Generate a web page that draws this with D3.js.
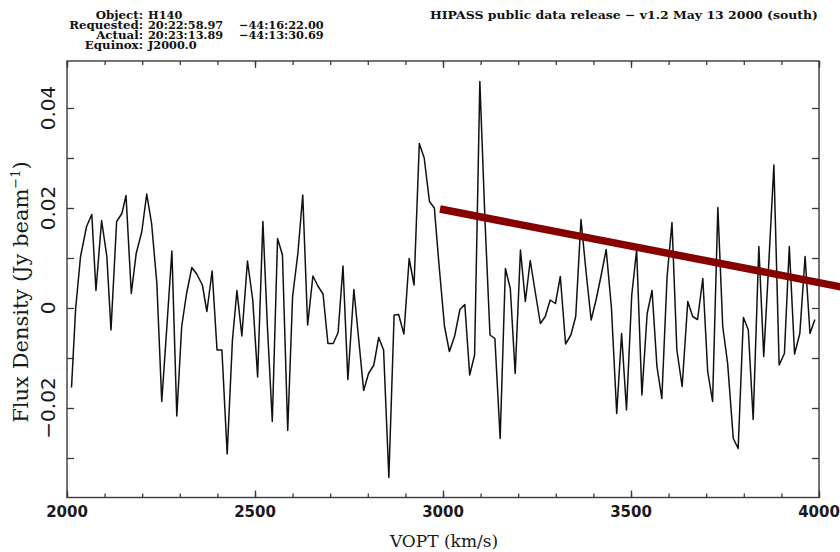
<!DOCTYPE html>
<html>
<head>
<meta charset="utf-8">
<script src="https://cdn.jsdelivr.net/npm/d3@7"></script>
<style>
  html, body { margin: 0; padding: 0; background: #fff; }
  svg { display: block; }
</style>
</head>
<body>
<script>
// HIPASS spectrum of H140: optical velocity (km/s) and flux density (Jy/beam)
const velocity = [
  2012, 2023, 2036, 2052, 2066, 2077, 2092, 2106, 2117, 2132,
  2146, 2157, 2171, 2184, 2199, 2212, 2225, 2239, 2252, 2265,
  2279, 2292, 2305, 2318, 2332, 2345, 2360, 2372, 2386, 2399,
  2412, 2426, 2440, 2452, 2465, 2480, 2494, 2507, 2521, 2533,
  2546, 2560, 2573, 2587, 2600, 2614, 2627, 2640, 2654, 2668,
  2681, 2694, 2708, 2721, 2734, 2747, 2763, 2776, 2789, 2802,
  2816, 2829, 2842, 2856, 2870, 2882, 2896, 2910, 2923, 2937,
  2950, 2964, 2977, 2989, 3004, 3017, 3031, 3045, 3058, 3071,
  3084, 3098, 3112, 3125, 3138, 3152, 3166, 3179, 3192, 3206,
  3219, 3232, 3246, 3259, 3272, 3285, 3299, 3312, 3326, 3340,
  3353, 3367, 3380, 3394, 3407, 3420, 3434, 3448, 3462, 3475,
  3488, 3502, 3515, 3529, 3543, 3556, 3569, 3582, 3596, 3609,
  3622, 3636, 3651, 3664, 3677, 3691, 3704, 3717, 3731, 3744,
  3757, 3772, 3785, 3799, 3812, 3825, 3840, 3853, 3866, 3880,
  3894, 3908, 3921, 3935, 3949, 3963, 3976, 3989
];
const flux = [
  -0.0159, -0.0001, 0.0103, 0.0163, 0.0187, 0.0035, 0.0175, 0.0103, -0.0044, 0.0173,
  0.0189, 0.0225, 0.0029, 0.0109, 0.0153, 0.0228, 0.0169, 0.0049, -0.0187, -0.0044,
  0.0114, -0.0216, -0.0037, 0.0029, 0.0081, 0.0068, 0.0046, -0.0007, 0.0074, -0.0084,
  -0.0084, -0.0292, -0.0064, 0.0035, -0.0056, 0.0094, 0.0016, -0.0138, 0.0173, -0.0037,
  -0.0227, 0.0139, 0.0106, -0.0245, 0.0023, 0.0109, 0.0226, -0.0034, 0.0064, 0.0043,
  0.0028, -0.0071, -0.0071, -0.0049, 0.0084, -0.0143, 0.0037, -0.0064, -0.0165, -0.0131,
  -0.0114, -0.0059, -0.0084, -0.0339, -0.0014, -0.0013, -0.0052, 0.0099, 0.0046, 0.0329,
  0.0300, 0.0213, 0.0200, 0.0090, -0.0037, -0.0087, -0.0056, -0.0003, 0.0007, -0.0134,
  -0.0094, 0.0453, 0.0169, -0.0054, -0.0061, -0.0261, 0.0079, 0.0039, -0.0131, 0.0116,
  0.0013, 0.0095, 0.0029, -0.0031, -0.0017, 0.0016, 0.0009, 0.0063, -0.0072, -0.0054,
  -0.0017, 0.0177, 0.0076, -0.0024, 0.0016, 0.0063, 0.0117, 0.0000, -0.0211, -0.0051,
  -0.0204, 0.0026, 0.0116, -0.0174, -0.0011, 0.0035, -0.0117, -0.0181, 0.0063, 0.0171,
  -0.0084, -0.0157, 0.0013, -0.0017, -0.0023, 0.0059, -0.0127, -0.0187, 0.0201, -0.0037,
  -0.0111, -0.0261, -0.0281, -0.0019, -0.0044, -0.0223, 0.0123, -0.0097, 0.0083, 0.0286,
  -0.0114, -0.0091, 0.0123, -0.0092, -0.0051, 0.0103, -0.0051, -0.0023
];

// Overlaid straight trend line (start and end points)
const trendVelocity = [2992, 4060];
const trendFlux = [0.0198, 0.0042];

// Axis ticks
const xMajorTicks = [2000, 2500, 3000, 3500, 4000];
const xMinorTicks = d3.range(2000, 4001, 100);
const yTicks = [-0.03, -0.02, -0.01, 0, 0.01, 0.02, 0.03, 0.04];
const yLabelTicks = [-0.02, 0, 0.02, 0.04];
const yLabelText = ["\u22120.02", "0", "0.02", "0.04"];

// Header text
const headerLabels = ["Object:", "Requested:", "Actual:", "Equinox:"];
const headerValues = ["H140", "20:22:58.97", "20:23:13.89", "J2000.0"];
const headerDec = ["", "\u221244:16:22.00", "\u221244:13:30.69", ""];
const releaseNote = "HIPASS public data release \u2212 v1.2 May 13 2000 (south)";

const W = 840, H = 552;
const plot = { left: 67, right: 819, top: 61, bottom: 497.5 };

const svg = d3.select("body").append("svg")
  .attr("width", W).attr("height", H)
  .style("background", "#fff");

const x = d3.scaleLinear().domain([2000, 4000]).range([plot.left, plot.right]);
const y = d3.scaleLinear().domain([0, 0.02]).range([308, 208]);

const axisColor = "#3a3a3a";

// Frame
svg.append("rect")
  .attr("x", plot.left).attr("y", plot.top)
  .attr("width", plot.right - plot.left).attr("height", plot.bottom - plot.top)
  .attr("fill", "none").attr("stroke", axisColor).attr("stroke-width", 1.4);

function styleAxis(g) {
  g.select(".domain").remove();
  g.selectAll(".tick line").attr("stroke", axisColor).attr("stroke-width", 1.3);
}

// X axes: minor ticks every 100, major every 500, inward on both edges
svg.append("g").attr("transform", `translate(0,${plot.bottom})`)
  .call(d3.axisBottom(x).tickValues(xMinorTicks).tickSizeInner(-4).tickFormat(""))
  .call(styleAxis);
svg.append("g").attr("transform", `translate(0,${plot.top})`)
  .call(d3.axisTop(x).tickValues(xMinorTicks).tickSizeInner(-4).tickFormat(""))
  .call(styleAxis);
svg.append("g").attr("transform", `translate(0,${plot.bottom})`)
  .call(d3.axisBottom(x).tickValues(xMajorTicks).tickSizeInner(-7).tickFormat(""))
  .call(styleAxis);
svg.append("g").attr("transform", `translate(0,${plot.top})`)
  .call(d3.axisTop(x).tickValues(xMajorTicks).tickSizeInner(-7).tickFormat(""))
  .call(styleAxis);

// Y axes: ticks every 0.01 on both edges
svg.append("g").attr("transform", `translate(${plot.left},0)`)
  .call(d3.axisLeft(y).tickValues(yTicks).tickSizeInner(-7).tickFormat(""))
  .call(styleAxis);
svg.append("g").attr("transform", `translate(${plot.right},0)`)
  .call(d3.axisRight(y).tickValues(yTicks).tickSizeInner(-7).tickFormat(""))
  .call(styleAxis);

// X tick labels
svg.append("g").selectAll("text").data(xMajorTicks).join("text")
  .attr("x", d => x(d)).attr("y", 517)
  .attr("text-anchor", "middle")
  .attr("font-family", "DejaVu Sans").attr("font-weight", "bold")
  .attr("font-size", 15).attr("fill", "#1a1a1a")
  .text(d => d);

// Y tick labels (rotated)
svg.append("g").selectAll("text").data(yLabelTicks).join("text")
  .attr("transform", d => `translate(55,${y(d)}) rotate(-90)`)
  .attr("text-anchor", "middle")
  .attr("font-family", "DejaVu Sans")
  .attr("font-size", 20).attr("fill", "#1a1a1a")
  .text((d, i) => yLabelText[i]);

// Axis titles
svg.append("text")
  .attr("x", 444).attr("y", 547)
  .attr("text-anchor", "middle")
  .attr("font-family", "DejaVu Serif").attr("font-size", 17).attr("fill", "#1a1a1a")
  .text("VOPT (km/s)");

const yTitle = svg.append("text")
  .attr("transform", "translate(28,292) rotate(-90)")
  .attr("text-anchor", "middle")
  .attr("font-family", "DejaVu Serif").attr("font-size", 21).attr("fill", "#1a1a1a");
yTitle.append("tspan").text("Flux Density (Jy beam");
yTitle.append("tspan").attr("dy", -8).attr("font-size", 13).text("\u22121");
yTitle.append("tspan").attr("dy", 8).text(")");

// Spectrum
const line = d3.line().x(d => x(d[0])).y(d => y(d[1]));
svg.append("path")
  .datum(d3.zip(velocity, flux))
  .attr("fill", "none").attr("stroke", "#111").attr("stroke-width", 1.5)
  .attr("stroke-linejoin", "round")
  .attr("d", line);

// Trend line
svg.append("path")
  .datum(d3.zip(trendVelocity, trendFlux))
  .attr("fill", "none").attr("stroke", "#870000").attr("stroke-width", 7.5)
  .attr("d", line);

// Header block
const header = svg.append("g")
  .attr("font-family", "DejaVu Serif").attr("font-weight", "bold")
  .attr("font-size", 11.3).attr("fill", "#111");
const baselines = [19, 29, 39, 49];
header.selectAll("text.lab").data(headerLabels).join("text")
  .attr("class", "lab").attr("x", 143).attr("y", (d, i) => baselines[i])
  .attr("text-anchor", "end")
  .attr("font-size", 11.8)
  .text(d => d);
header.selectAll("text.val").data(headerValues).join("text")
  .attr("class", "val").attr("x", 148).attr("y", (d, i) => baselines[i])
  .text(d => d);
header.selectAll("text.dec").data(headerDec).join("text")
  .attr("class", "dec").attr("x", 239).attr("y", (d, i) => baselines[i])
  .text(d => d);
header.append("text")
  .attr("x", 430).attr("y", 19)
  .attr("textLength", 388).attr("lengthAdjust", "spacingAndGlyphs")
  .text(releaseNote);
</script>
</body>
</html>
